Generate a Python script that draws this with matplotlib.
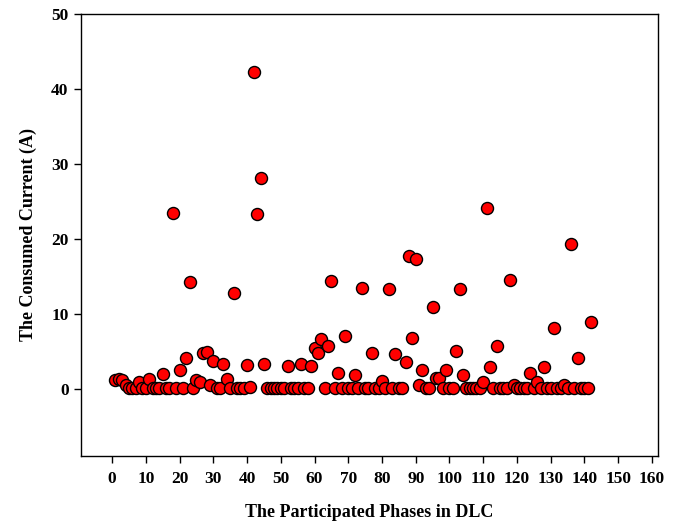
import matplotlib.pyplot as plt
import numpy as np

# phase number in DLC -> consumed current (A)
phases = np.arange(1, 143)
current = [
    1.2, 1.4, 1.2, 0.6, 0.2, 0.1, 0.1, 0.9, 0.1, 0.2,      # 1-10
    1.3, 0.1, 0.1, 0.1, 2.0, 0.1, 0.1, 23.5, 0.1, 2.5,     # 11-20
    0.1, 4.2, 14.3, 0.1, 1.2, 1.0, 4.8, 5.0, 0.5, 3.8,     # 21-30
    0.1, 0.1, 3.4, 1.4, 0.1, 12.8, 0.1, 0.2, 0.2, 3.2,     # 31-40
    0.3, 42.3, 23.4, 28.1, 3.3, 0.1, 0.1, 0.1, 0.1, 0.1,   # 41-50
    0.1, 3.1, 0.1, 0.1, 0.1, 3.3, 0.1, 0.1, 3.1, 5.5,      # 51-60
    4.8, 6.7, 0.1, 5.7, 14.4, 0.1, 2.2, 0.1, 7.1, 0.1,     # 61-70
    0.1, 1.9, 0.1, 13.5, 0.1, 0.1, 4.8, 0.1, 0.1, 1.1,     # 71-80
    0.1, 13.4, 0.1, 4.7, 0.1, 0.1, 3.6, 17.8, 6.8, 17.4,   # 81-90
    0.5, 2.5, 0.1, 0.1, 11.0, 1.5, 1.5, 0.1, 2.5, 0.1,     # 91-100
    0.1, 5.1, 13.4, 1.9, 0.1, 0.1, 0.1, 0.1, 0.1, 0.9,     # 101-110
    24.2, 2.9, 0.1, 5.7, 0.1, 0.1, 0.1, 14.6, 0.5, 0.1,    # 111-120
    0.1, 0.1, 0.1, 2.2, 0.1, 1.0, 0.1, 2.9, 0.1, 0.1,      # 121-130
    8.1, 0.1, 0.1, 0.6, 0.1, 19.3, 0.1, 4.1, 0.1, 0.1,     # 131-140
    0.1, 8.9,                                              # 141-142
]

xticks = np.arange(0, 161, 10)
yticks = np.arange(0, 51, 10)

plt.rcParams['font.family'] = ['Liberation Serif', 'DejaVu Serif']
plt.rcParams['font.weight'] = 'bold'

fig = plt.figure(figsize=(6.73, 5.24), dpi=100)
ax = fig.add_axes([0.1204, 0.1298, 0.8573, 0.8435])

ax.scatter(phases, current, s=75, c='#ff0000', edgecolors='black',
           linewidths=1.0, zorder=3)

ax.set_xlim(-9.2, 161.8)
ax.set_ylim(-8.9, 50)
ax.set_xticks(xticks)
ax.set_yticks(yticks)
ax.tick_params(direction='out', length=5, width=1, labelsize=12.5)
ax.tick_params(axis='x', pad=6)
ax.tick_params(axis='y', pad=4)
for lbl in ax.get_xticklabels() + ax.get_yticklabels():
    lbl.set_fontweight('bold')
for sp in ax.spines.values():
    sp.set_linewidth(1.0)

ax.set_xlabel("The Participated Phases in DLC", fontsize=13,
              fontweight='bold', labelpad=12)
ax.set_ylabel("The Consumed Current (A)", fontsize=13,
              fontweight='bold', labelpad=10)

plt.savefig("out.png", dpi=100)
